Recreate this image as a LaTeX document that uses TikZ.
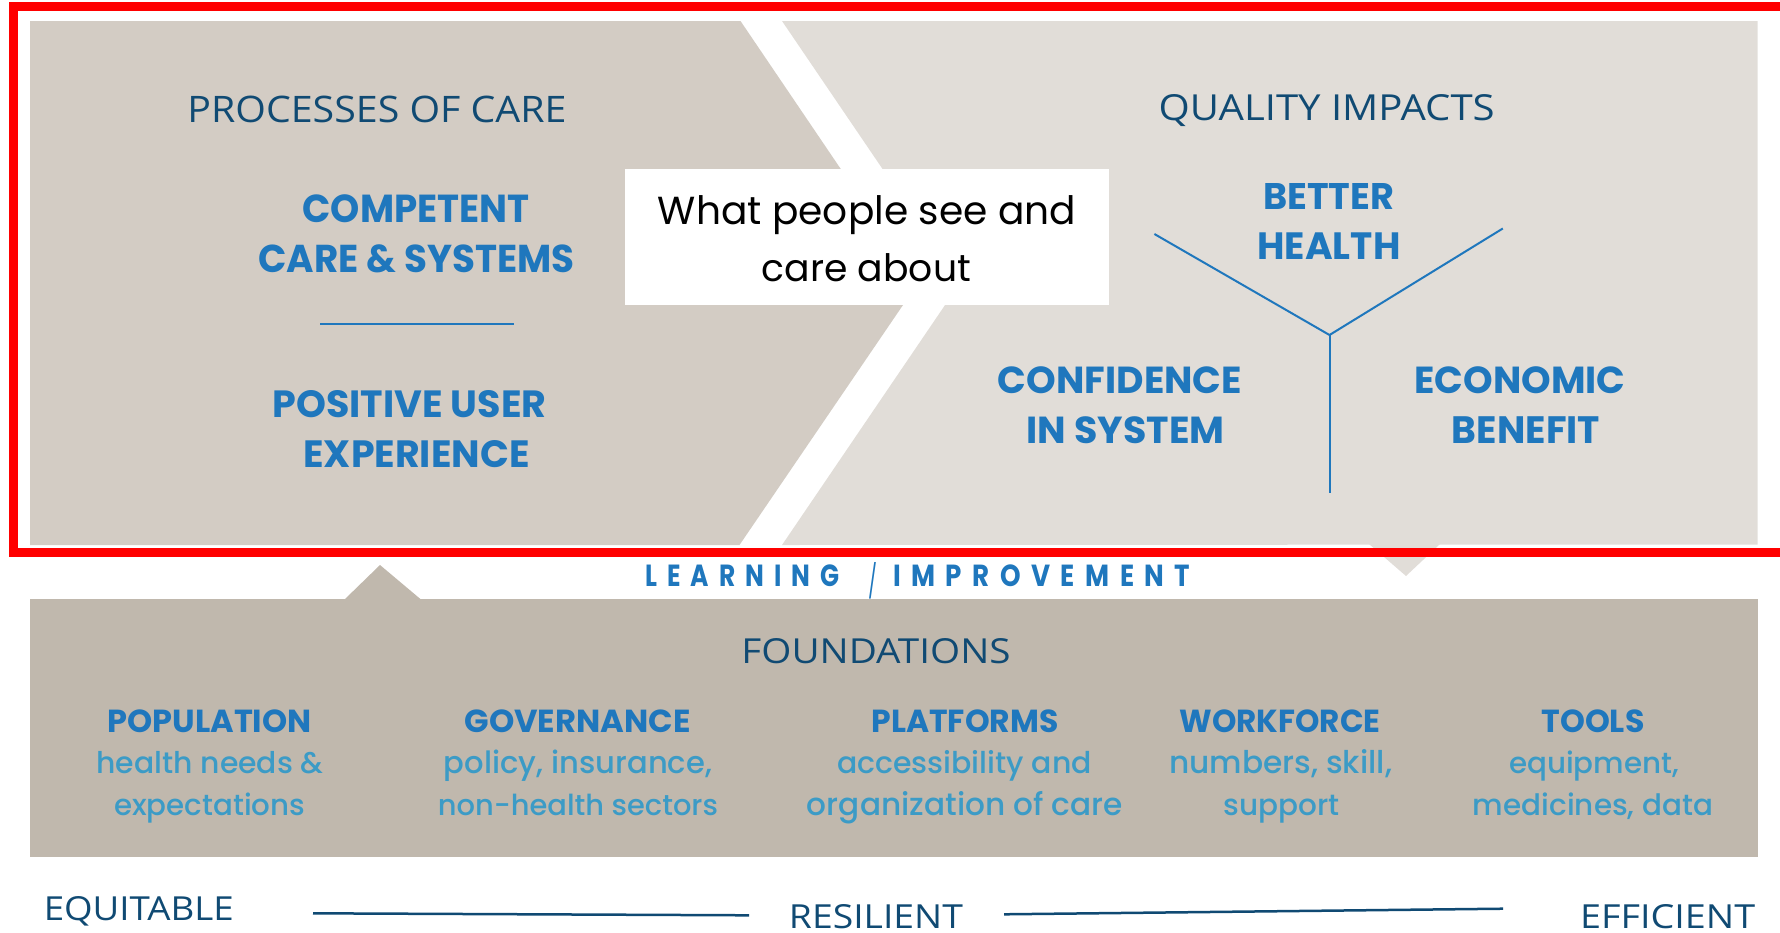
\documentclass[tikz,border=0pt]{standalone}
\usepackage{fontspec}
\usepackage{graphicx}
\setmainfont{Open Sans}
\newfontfamily\thinfont{Open Sans}
\newfontfamily\geofont{Poppins}
\IfFontExistsTF{Poppins Medium}
  {\newfontfamily\geosemi{Poppins Medium}}
  {\IfFontExistsTF{Poppins SemiBold}
     {\newfontfamily\geosemi{Poppins SemiBold}}
     {\newfontfamily\geosemi[FakeBold=3]{Poppins}}}
\newfontfamily\spacedfont[LetterSpace=40]{Poppins}

\definecolor{panelL}{HTML}{D3CCC4}
\definecolor{panelR}{HTML}{E1DDD8}
\definecolor{found}{HTML}{C0B8AD}
\definecolor{navy}{HTML}{104A73}
\definecolor{brightblue}{HTML}{1F77BD}
\definecolor{softblue}{HTML}{3C9BC6}
\definecolor{frame}{HTML}{FF0000}

% fit a line of text to a given width (and cap height)
\newcommand\fitwh[3]{\resizebox{#1pt}{#2pt}{#3}}
\newcommand\fitw[2]{\resizebox{#1pt}{!}{#2}}

\begin{document}
\begin{tikzpicture}[x=1pt,y=-1pt,
  thin/.style={inner sep=0, anchor=base, text=navy, font=\thinfont},
  boldcap/.style={inner sep=0, anchor=base, text=brightblue, font=\geofont\bfseries},
  soft/.style={inner sep=0, anchor=base, text=softblue, font=\geosemi},
  quote/.style={inner sep=0, anchor=base, text=black, font=\geofont},
  spaced/.style={inner sep=0, anchor=base west, text=brightblue, font=\spacedfont\bfseries},
  blueline/.style={draw=brightblue, line width=2pt},
  navyline/.style={draw=navy, line width=2.5pt}]
\useasboundingbox (0,0) rectangle (1780,932);
\clip (0,0) rectangle (1780,932);

% upper panels: processes (chevron) and impacts
\fill[panelL] (30,21) -- (740.5,21) -- (918,283) -- (739.5,545) -- (30,545) -- cycle;
\fill[panelR] (782,21) -- (1757.5,21) -- (1757.5,544.5) -- (782,545) -- (960,283) -- cycle;

% pointers between the layers
\fill[panelR] (1369,544) -- (1406,576) -- (1440,544) -- cycle;
\fill[found] (344.5,599.5) -- (380,565) -- (421,599.5) -- cycle;

% foundations band
\fill[found] (30,599) rectangle (1758,857);

% red outline round the upper part
\draw[frame, line width=8.5pt] (13.5,6.5) rectangle (1800,552.5);

% central callout
\node[fill=white, minimum width=484pt, minimum height=136pt, inner sep=0] (callout) at (867,237) {};
\node[quote] (q1) at (867,224) {\fitw{418}{What people see and}};
\node[quote] (q2) at (866.5,281.7) {\fitw{209}{care about}};

% processes of care
\node[thin] (proc) at (377,122) {\fitwh{379}{26.5}{PROCESSES OF CARE}};
\node[boldcap] (comp1) at (416,222.2) {\fitwh{227}{27.8}{COMPETENT}};
\node[boldcap] (comp2) at (416.3,272.2) {\fitwh{316}{27.8}{CARE \& SYSTEMS}};
\coordinate (sepL) at (320,324);
\coordinate (sepR) at (514,324);
\draw[blueline, line width=2.5pt] (sepL) -- (sepR);
\node[boldcap] (pos1) at (409.5,417.8) {\fitwh{274}{27}{POSITIVE USER}};
\node[boldcap] (pos2) at (416.5,467.8) {\fitwh{226}{27}{EXPERIENCE}};

% quality impacts
\node[thin] (qual) at (1326.6,120.4) {\fitwh{336}{26}{QUALITY IMPACTS}};
\node[boldcap] (bh1) at (1328.6,209.3) {\fitwh{131}{26}{BETTER}};
\node[boldcap] (bh2) at (1329,259.3) {\fitwh{143}{26.7}{HEALTH}};
\node[boldcap] (cs1) at (1120,393.3) {\fitwh{244}{26.8}{CONFIDENCE}};
\node[boldcap] (cs2) at (1125.6,443.5) {\fitwh{198}{26.8}{IN SYSTEM}};
\node[boldcap] (eb1) at (1520,393.3) {\fitwh{211}{26.8}{ECONOMIC}};
\node[boldcap] (eb2) at (1526,443.5) {\fitwh{148}{26.8}{BENEFIT}};
\coordinate (yl) at (1154.4,234);
\coordinate (yr) at (1502.8,228.5);
\coordinate (yc) at (1329.5,335);
\coordinate (yb) at (1329.5,492.6);
\draw[blueline] (yl) -- (yc) -- (yr);
\draw[blueline] (yc) -- (yb);

% learning loop
\node[spaced] (learn) at (645,586.7) {\fitwh{194}{21.7}{LEARNING}\hspace*{25pt}\makebox[18pt]{\raisebox{-7pt}{\resizebox{9pt}{31pt}{\mdseries /}}}\hspace*{11pt}\fitwh{297}{21.7}{IMPROVEMENT}};

% foundations
\node[thin] (fnd) at (876,663) {\fitwh{269}{25}{FOUNDATIONS}};
\node[boldcap] (popH) at (209.6,732.7) {\fitwh{204}{22.7}{POPULATION}};
\node[boldcap] (govH) at (577.6,732.7) {\fitwh{226}{22.7}{GOVERNANCE}};
\node[boldcap] (platH) at (965,732.7) {\fitwh{187}{22.7}{PLATFORMS}};
\node[boldcap] (workH) at (1280,732.7) {\fitwh{201}{22.7}{WORKFORCE}};
\node[boldcap] (toolH) at (1593,732.7) {\fitwh{103}{22.7}{TOOLS}};
\node[soft] (pop1) at (210,773) {\fitw{227}{health needs \&}};
\node[soft] (pop2) at (209.7,815) {\fitw{191}{expectations}};
\node[soft] (gov1) at (578,773) {\fitw{268}{policy, insurance,}};
\node[soft] (gov2) at (578,815) {\fitw{280}{non-health sectors}};
\node[soft] (plat1) at (964.5,773) {\fitw{255}{accessibility and}};
\node[soft] (plat2) at (965,815) {\fitw{316}{organization of care}};
\node[soft] (work1) at (1280.5,773) {\fitw{223}{numbers, skill,}};
\node[soft] (work2) at (1281.7,815) {\fitw{116}{support}};
\node[soft] (tool1) at (1594,773) {\fitw{170}{equipment,}};
\node[soft] (tool2) at (1593,815) {\fitw{240}{medicines, data}};

% system attributes
\node[thin] (equi) at (138.8,920) {\fitwh{190}{24}{EQUITABLE}};
\node[thin] (resi) at (876,928) {\fitwh{174}{24}{RESILIENT}};
\node[thin] (effi) at (1667.6,928) {\fitwh{175}{24}{EFFICIENT}};
\coordinate (la) at (313,913.3);
\coordinate (lb) at (749,915.3);
\coordinate (lc) at (1004,914.3);
\coordinate (ld) at (1503,908.7);
\draw[navyline] (la) -- (lb);
\draw[navyline] (lc) -- (ld);
\end{tikzpicture}
\end{document}
